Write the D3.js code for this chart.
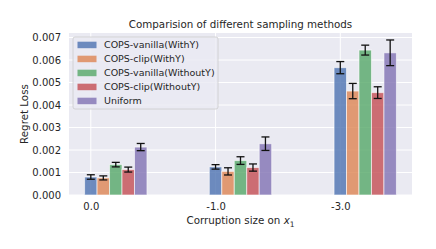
<!DOCTYPE html>
<html>
<head>
<meta charset="utf-8">
<script src="https://cdn.jsdelivr.net/npm/d3@7"></script>
<style>
  body { margin: 0; background: white; }
  text { font-family: "DejaVu Sans", sans-serif; fill: #262626; }
</style>
</head>
<body>
<svg id="chart" width="436" height="249"></svg>
<script>
// --- data
const categories = ["0.0", "-1.0", "-3.0"]
const methods = ["COPS-vanilla(WithY)", "COPS-clip(WithY)", "COPS-vanilla(WithoutY)", "COPS-clip(WithoutY)", "Uniform"]
const colors = ["#4C72B0", "#DD8452", "#55A868", "#C44E52", "#8172B3"]

const vanillaWithY = [0.00080, 0.00125, 0.00566]
const clipWithY = [0.00076, 0.00105, 0.00462]
const vanillaWithoutY = [0.00135, 0.00153, 0.00644]
const clipWithoutY = [0.00113, 0.00122, 0.00455]
const uniform = [0.00213, 0.00228, 0.00632]

const errVanillaWithY = [0.00010, 0.00010, 0.00027]
const errClipWithY = [0.00009, 0.00016, 0.00034]
const errVanillaWithoutY = [0.00010, 0.00017, 0.00022]
const errClipWithoutY = [0.00011, 0.00016, 0.00026]
const errUniform = [0.00016, 0.00030, 0.00057]

const yTicks = [0, 0.001, 0.002, 0.003, 0.004, 0.005, 0.006, 0.007]

const series = [vanillaWithY, clipWithY, vanillaWithoutY, clipWithoutY, uniform]
const errors = [errVanillaWithY, errClipWithY, errVanillaWithoutY, errClipWithoutY, errUniform]

// --- layout
const svg = d3.select("#chart")
const plot = { left: 69, right: 412, top: 33, bottom: 195 }
const barW = 0.1

const x = d3.scaleLinear().domain([-0.175, 2.575]).range([plot.left, plot.right])
const y = d3.scaleLinear().domain([0, 0.0072]).range([plot.bottom, plot.top])

svg.append("rect")
    .attr("x", plot.left).attr("y", plot.top)
    .attr("width", plot.right - plot.left).attr("height", plot.bottom - plot.top)
    .attr("fill", "#EAEAF2")

// grid
svg.append("g").selectAll("line").data(yTicks).join("line")
    .attr("x1", plot.left).attr("x2", plot.right)
    .attr("y1", d => y(d)).attr("y2", d => y(d))
    .attr("stroke", "white").attr("stroke-width", 1)

svg.append("g").selectAll("line").data(categories).join("line")
    .attr("x1", (d, i) => x(i)).attr("x2", (d, i) => x(i))
    .attr("y1", plot.top).attr("y2", plot.bottom)
    .attr("stroke", "white").attr("stroke-width", 1)

// bars
const bars = []
series.forEach((vals, s) => {
    vals.forEach((v, i) => bars.push({ s, i, v, e: errors[s][i] }))
})

svg.append("g").selectAll("rect").data(bars).join("rect")
    .attr("x", d => x(d.i + d.s * barW - barW / 2))
    .attr("width", d => x(barW) - x(0))
    .attr("y", d => y(d.v))
    .attr("height", d => y(0) - y(d.v))
    .attr("fill", d => colors[d.s])
    .attr("fill-opacity", 0.8)
    .attr("stroke", "white")
    .attr("stroke-opacity", 0.6)
    .attr("stroke-width", 1)

// error bars
const eb = svg.append("g").attr("stroke", "#111").attr("stroke-width", 1.3)
const capHalf = 4
bars.forEach(d => {
    const cx = x(d.i + d.s * barW)
    eb.append("line").attr("x1", cx).attr("x2", cx)
        .attr("y1", y(d.v - d.e)).attr("y2", y(d.v + d.e))
    eb.append("line").attr("x1", cx - capHalf).attr("x2", cx + capHalf)
        .attr("y1", y(d.v + d.e)).attr("y2", y(d.v + d.e))
    eb.append("line").attr("x1", cx - capHalf).attr("x2", cx + capHalf)
        .attr("y1", y(d.v - d.e)).attr("y2", y(d.v - d.e))
})

// axes (labels only, seaborn darkgrid style)
const yAxis = svg.append("g")
    .attr("transform", `translate(${plot.left},0)`)
    .call(d3.axisLeft(y).tickValues(yTicks).tickFormat(d3.format(".3f")).tickSize(0).tickPadding(8))
yAxis.select(".domain").remove()
yAxis.selectAll("text").style("font-size", "10px").style("font-family", "DejaVu Sans").attr("fill", "#262626")

const xAxis = svg.append("g")
    .attr("transform", `translate(0,${plot.bottom})`)
    .call(d3.axisBottom(x).tickValues([0, 1, 2]).tickFormat(i => categories[i]).tickSize(0).tickPadding(8))
xAxis.select(".domain").remove()
xAxis.selectAll("text").style("font-size", "10px").style("font-family", "DejaVu Sans").attr("fill", "#262626")

// title and axis labels
svg.append("text")
    .attr("x", (plot.left + plot.right) / 2).attr("y", 28)
    .attr("text-anchor", "middle")
    .style("font-size", "10.3px")
    .text("Comparision of different sampling methods")

svg.append("text")
    .attr("transform", `translate(28,${(plot.top + plot.bottom) / 2}) rotate(-90)`)
    .attr("text-anchor", "middle")
    .style("font-size", "10.3px")
    .text("Regret Loss")

const xl = svg.append("text")
    .attr("x", (plot.left + plot.right) / 2).attr("y", 224)
    .attr("text-anchor", "middle")
    .style("font-size", "10.3px")
xl.append("tspan").text("Corruption size on ")
xl.append("tspan").style("font-style", "italic").text("x")
xl.append("tspan").attr("dy", 2.5).style("font-size", "7.5px").text("1")

// legend
const legend = svg.append("g").attr("transform", "translate(73,37)")
legend.append("rect")
    .attr("width", 145).attr("height", 72).attr("rx", 2)
    .attr("fill", "#EAEAF2").attr("fill-opacity", 0.8)
    .attr("stroke", "#cccccc").attr("stroke-width", 0.8)

const items = legend.selectAll("g").data(methods).join("g")
    .attr("transform", (d, i) => `translate(0,${7.7 + i * 14})`)
items.append("rect")
    .attr("x", 4.5).attr("y", -3).attr("width", 19).attr("height", 6.5)
    .attr("fill", (d, i) => colors[i]).attr("fill-opacity", 0.8)
items.append("text")
    .attr("x", 31).attr("y", 3.4)
    .style("font-size", "9.5px")
    .text(d => d)
</script>
</body>
</html>
